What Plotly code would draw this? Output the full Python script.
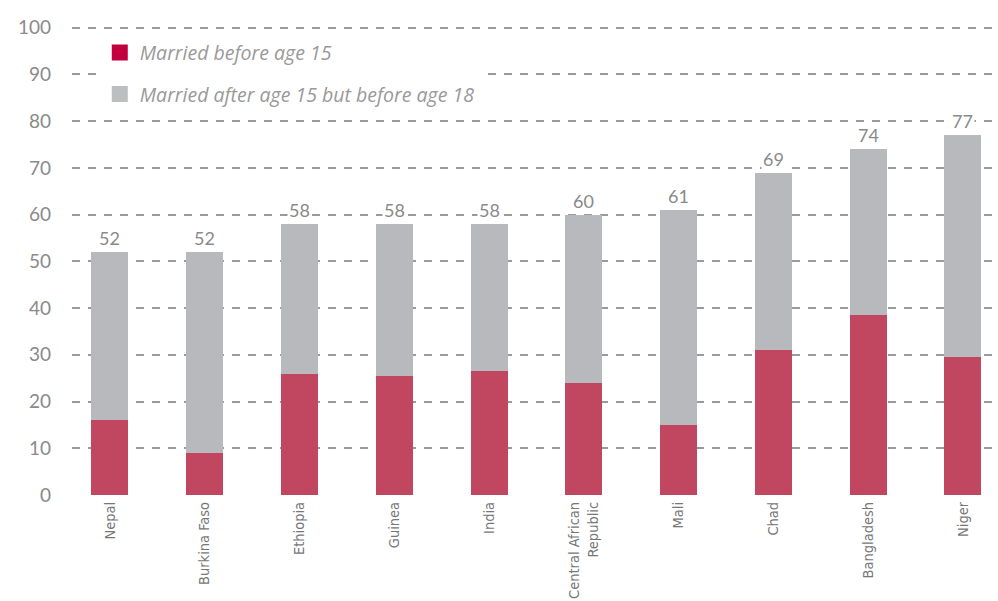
import plotly.graph_objects as go

countries = ["Nepal", "Burkina Faso", "Ethiopia", "Guinea", "India",
             "Central African<br>Republic", "Mali", "Chad", "Bangladesh", "Niger"]
before15 = [16, 9, 26, 25.5, 26.5, 24, 15, 31, 38.5, 29.5]
totals = [52, 52, 58, 58, 58, 60, 61, 69, 74, 77]
between15_18 = [t - b for t, b in zip(totals, before15)]
yticks = [0, 10, 20, 30, 40, 50, 60, 70, 80, 90, 100]
series_names = ["Married before age 15", "Married after age 15 but before age 18"]

RED = "#C0475F"
GRAY = "#B7B9BC"
LEG_RED = "#C2003E"
LEG_GRAY = "#BDBEC0"
TXT = "#8A8A8A"

fig = go.Figure()
fig.add_bar(x=countries, y=before15, name=series_names[0], showlegend=False,
            marker=dict(color=RED, line=dict(width=0)))
fig.add_bar(x=countries, y=between15_18, name=series_names[1], showlegend=False,
            marker=dict(color=GRAY, line=dict(width=0)))
# legend entries
for nm, col, grp in zip(series_names, [LEG_RED, LEG_GRAY], ["a", "b"]):
    fig.add_scatter(x=[None], y=[None], mode="markers", name=nm, legendgroup=grp,
                    marker=dict(symbol="square", size=21, color=col))

for c, t in zip(countries, totals):
    fig.add_annotation(x=c, y=t, text=str(t), showarrow=False, yanchor="bottom",
                       yshift=1, bgcolor="white", borderpad=1,
                       font=dict(family="Lato, sans-serif", size=18, color=TXT))

fig.update_layout(
    barmode="stack",
    bargap=0.61,
    width=998, height=601,
    margin=dict(l=72, r=0, t=23, b=106, autoexpand=False),
    plot_bgcolor="white", paper_bgcolor="white",
    showlegend=True,
    legend=dict(x=0.03, y=0.978, xanchor="left", yanchor="top",
                bgcolor="white", traceorder="grouped", itemsizing="trace",
                font=dict(family="Open Sans, sans-serif", size=19.5, color="#999999", style="italic"),
                itemwidth=30, tracegroupgap=13),
    xaxis=dict(range=[-0.4, 9.37], tickangle=-90, showgrid=False, showline=False,
               ticks="", ticklabelstandoff=3, automargin=False,
               tickfont=dict(family="Liberation Sans Narrow, DejaVu Sans Condensed, sans-serif",
                             size=14.5, color="#777777")),
    yaxis=dict(range=[0, 101], tickvals=yticks, showgrid=True, gridcolor="#9A9A9A",
               gridwidth=2, griddash="8px,8px", zeroline=False, showline=False,
               ticklabelstandoff=20, automargin=False,
               tickfont=dict(family="Lato, sans-serif", size=19, color=TXT)),
)

fig.write_html("out.html")
